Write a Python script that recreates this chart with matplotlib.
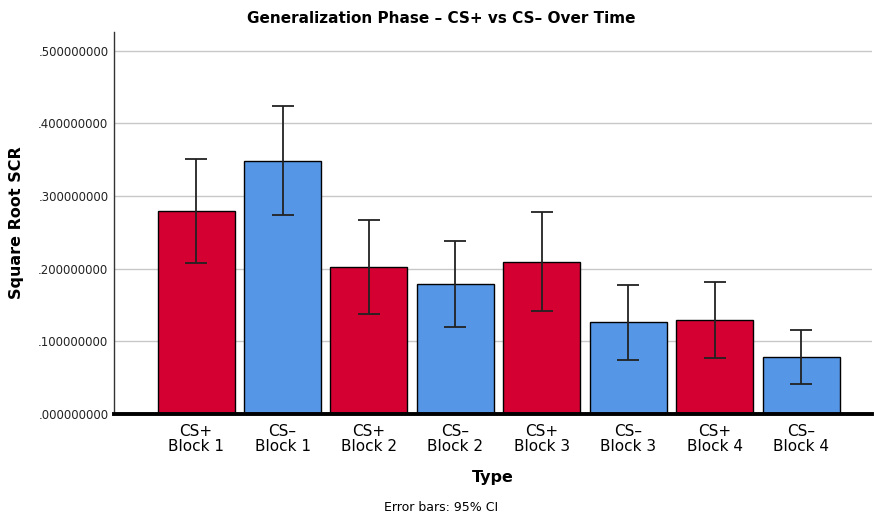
import matplotlib
matplotlib.use("Agg")
import matplotlib.pyplot as plt
import numpy as np
from matplotlib.ticker import FuncFormatter

# values
categories = ["CS+\nBlock 1", "CS\u2013\nBlock 1", "CS+\nBlock 2", "CS\u2013\nBlock 2",
              "CS+\nBlock 3", "CS\u2013\nBlock 3", "CS+\nBlock 4", "CS\u2013\nBlock 4"]
means = [0.280, 0.348, 0.202, 0.179, 0.209, 0.126, 0.129, 0.078]
ci_low = [0.208, 0.274, 0.138, 0.120, 0.142, 0.074, 0.077, 0.041]
ci_high = [0.351, 0.424, 0.267, 0.238, 0.278, 0.177, 0.182, 0.115]
y_ticks = [0.0, 0.1, 0.2, 0.3, 0.4, 0.5]

RED = "#D50032"
BLUE = "#5596E6"
colors = [RED if c.startswith("CS+") else BLUE for c in categories]

fig = plt.figure(figsize=(8.74, 5.21), dpi=100)
ax = fig.add_axes([0.1304, 0.2054, 0.8673, 0.7332])

x = np.arange(len(categories))
ax.bar(x, means, width=0.89, color=colors, edgecolor="black", linewidth=1.0, zorder=2)

means_a = np.array(means)
yerr = np.vstack([means_a - np.array(ci_low), np.array(ci_high) - means_a])
ax.errorbar(x, means, yerr=yerr, fmt="none", ecolor="#222222", elinewidth=1.3,
            capsize=8, capthick=1.3, zorder=3)

ax.set_xlim(-0.95, len(categories) - 1 + 0.82)
ax.set_ylim(0, 0.526)
ax.set_yticks(y_ticks)
ax.yaxis.set_major_formatter(FuncFormatter(lambda v, _: f"{v:.9f}"[1:] if v < 1 else f"{v:.9f}"))
ax.set_xticks(x)
ax.set_xticklabels(categories, fontsize=11, linespacing=1.0)
ax.tick_params(axis="y", length=0, labelsize=8.5, pad=4, colors="#222222")
ax.tick_params(axis="x", length=0, pad=7)

ax.grid(axis="y", color="#c8c8c8", linewidth=1.0, zorder=0)
ax.set_axisbelow(True)

for side in ("top", "right"):
    ax.spines[side].set_visible(False)
ax.spines["left"].set_color("#333333")
ax.spines["left"].set_linewidth(1.0)
ax.spines["bottom"].set_color("black")
ax.spines["bottom"].set_linewidth(2.8)
ax.spines["bottom"].set_zorder(4)

fig.text(0.505, 0.965, "Generalization Phase \u2013 CS+ vs CS\u2013 Over Time", fontsize=11,
         fontweight="bold", ha="center", va="center")
ax.set_ylabel("Square Root SCR", fontsize=11.5, fontweight="bold", labelpad=10)
ax.set_xlabel("Type", fontsize=11.5, fontweight="bold", labelpad=12)

fig.text(0.505, 0.013, "Error bars: 95% CI", ha="center", va="bottom", fontsize=9)

fig.savefig("out.png", dpi=100)
